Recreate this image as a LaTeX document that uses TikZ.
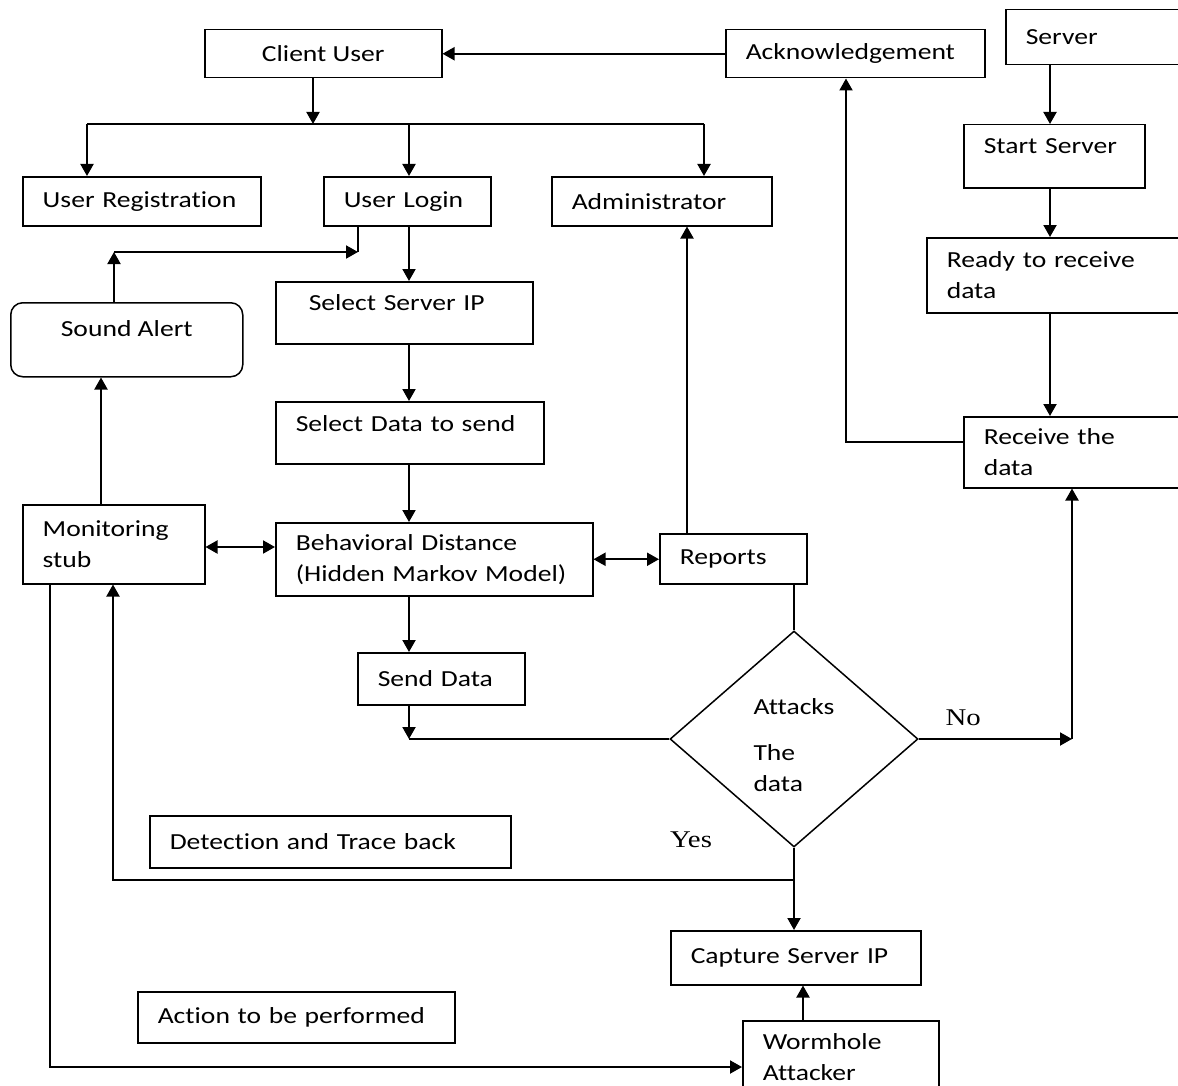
\documentclass[tikz,border=0pt]{standalone}
\usepackage{fontspec}
\setmainfont{Carlito}[FakeStretch=1.2, Ligatures=CommonOff]
\newfontfamily\yesNoFont{Liberation Serif}[FakeStretch=1.2]
\usepackage{tikz}
\usetikzlibrary{shapes.geometric, arrows.meta, positioning, calc}
\definecolor{lineColor}{RGB}{0, 0, 0}
\tikzset{
    font=\fontsize{11.5pt}{15.5pt}\selectfont,
    % --- box styles ---
    baseBlock/.style={
        rectangle, draw=lineColor, line width=0.75pt,
        anchor=north west, inner xsep=10pt, inner ysep=2pt,
        align=left
    },
    textUp/.style={text depth=#1},
    styleDecision/.style={
        diamond, draw=lineColor, line width=0.75pt,
        inner sep=0pt, minimum width=124pt, minimum height=108pt,
        align=left, text height=53pt
    },
    yesNo/.style={font=\yesNoFont\fontsize{12pt}{14pt}\selectfont},
    % --- connector styles ---
    connPlain/.style={draw=lineColor, line width=1pt},
    conn/.style={
        connPlain, >={Triangle[length=6pt, width=6.5pt]}, ->
    },
    connBoth/.style={
        conn, <->
    }
}

\begin{document}
\begin{tikzpicture}[x=0.5pt, y=-0.5pt]

    % =========================================================
    % frame
    % =========================================================
    \path[use as bounding box, fill=white] (0,0) rectangle (1178,1086);
    \clip (0,0) rectangle (1178,1086);

    % =========================================================
    % client side
    % =========================================================
    \node [baseBlock, minimum width=118.5pt, minimum height=24pt] (client) at (204,29) {Client User};
    \node [baseBlock, minimum width=129.5pt, minimum height=24pt, text width=109.5pt] (ack) at (725,29) {Acknowledgement};

    \node [baseBlock, minimum width=119pt, minimum height=24.5pt, text width=99pt] (userReg) at (22,176) {User Registration};
    \node [baseBlock, minimum width=83.5pt, minimum height=24.5pt, text width=63.5pt] (login) at (323,176) {User Login};
    \node [baseBlock, minimum width=110pt, minimum height=24.5pt, text width=90pt] (admin) at (551,176) {Administrator};

    \node [baseBlock, minimum width=128.5pt, minimum height=31pt, inner xsep=16.5pt, text width=95.5pt, textUp=10pt] (selIP) at (275,281) {Select Server IP};
    \node [baseBlock, minimum width=134pt, minimum height=31pt, text width=114pt, textUp=9pt] (selData) at (275,401) {Select Data to send};
    \node [baseBlock, rounded corners=6pt, minimum width=116pt, minimum height=37pt, textUp=11pt] (alert) at (10,302) {Sound Alert};

    \node [baseBlock, minimum width=91pt, minimum height=39.5pt, text width=71pt] (monitor) at (22,504) {Monitoring\\stub};
    \node [baseBlock, minimum width=158.5pt, minimum height=36.5pt, text width=138.5pt] (behav) at (275,522) {Behavioral Distance\\(Hidden Markov Model)};
    \node [baseBlock, minimum width=73.5pt, minimum height=25pt, text width=53.5pt] (reports) at (659,533) {Reports};
    \node [baseBlock, minimum width=83.5pt, minimum height=26pt, text width=63.5pt] (send) at (357,652) {Send Data};

    \node [baseBlock, minimum width=180.5pt, minimum height=26pt, text width=160.5pt] (detect) at (149,815) {Detection and Trace back};
    \node [baseBlock, minimum width=158.5pt, minimum height=25.5pt, text width=138.5pt] (action) at (137,991) {Action to be performed};
    \node [baseBlock, minimum width=125pt, minimum height=27pt, text width=105pt] (capture) at (670,930) {Capture Server IP};
    \node [baseBlock, minimum width=98pt, minimum height=36pt, text width=78pt] (worm) at (742,1020) {Wormhole\\Attacker};

    % decision
    \node [styleDecision] (attack) at (794,739) {Attacks\\[7.5pt]The\\data};
    \node [yesNo] (yesLbl) at (691,840) {Yes};

    % =========================================================
    % server side
    % =========================================================
    \node [baseBlock, minimum width=97.5pt, minimum height=27.5pt, text width=77.5pt] (server) at (1005,9) {Server};
    \node [baseBlock, minimum width=90.5pt, minimum height=31.5pt, text width=70.5pt, textUp=10pt] (start) at (963,124) {Start Server};
    \node [baseBlock, minimum width=137pt, minimum height=37.5pt, text width=117pt] (ready) at (926,237) {Ready to receive\\data};
    \node [baseBlock, minimum width=118.5pt, minimum height=35.5pt, text width=98.5pt] (receive) at (963,416) {Receive the\\data};

    % =========================================================
    % bends
    % =========================================================
    \coordinate (cuOut) at (313,124);
    \coordinate (busL) at (87,124);
    \coordinate (busR) at (704,124);
    \coordinate (spine) at (409,0);
    \coordinate (alertUp) at (114,252);
    \coordinate (loginIn) at (358,252);
    \coordinate (monUp) at (101,0);
    \coordinate (sideLink) at (0,547);
    \coordinate (sendOut) at (409,739);
    \coordinate (noTurn) at (1072,739);
    \coordinate (yesJoin) at (794,880);
    \coordinate (backTurn) at (113,880);
    \coordinate (monDown) at (50,1067);
    \coordinate (repUp) at (687,0);
    \coordinate (wormUp) at (803,0);
    \coordinate (ackTurn) at (846,442);
    \coordinate (srvCol) at (1050,0);

    % =========================================================
    % connectors
    % =========================================================

    % client user fan out
    \draw [conn] (ack.west) -- (client.east);
    \draw [conn] (client.south -| cuOut) -- (cuOut);
    \draw [connPlain] (busL) -- (busR);
    \draw [conn] (busL) -- (userReg.north -| busL);
    \draw [conn] (spine |- busL) -- (login.north -| spine);
    \draw [conn] (busR) -- (admin.north -| busR);

    % main chain
    \draw [conn] (login.south -| spine) -- (selIP.north -| spine);
    \draw [conn] (selIP.south -| spine) -- (selData.north -| spine);
    \draw [conn] (selData.south -| spine) -- (behav.north -| spine);
    \draw [conn] (behav.south -| spine) -- (send.north -| spine);
    \draw [conn] (send.south -| spine) -- (sendOut);
    \draw [connPlain] (sendOut) -- (attack.west);

    % monitoring loop
    \draw [conn] (monitor.north -| monUp) -- (alert.south -| monUp);
    \draw [conn] (alert.north -| alertUp) -- (alertUp);
    \draw [conn] (alertUp) -- (loginIn);
    \draw [connPlain] (loginIn) -- (login.south -| loginIn);
    \draw [connBoth] (monitor.east |- sideLink) -- (behav.west |- sideLink);
    \draw [connBoth] (behav.east) -- (reports.west |- behav.east);
    \draw [conn] (reports.north -| repUp) -- (admin.south -| repUp);
    \draw [connPlain] (reports.south -| attack.north) -- (attack.north);

    % decision
    \draw [conn] (attack.east) -- node[yesNo, pos=0.29, above=3pt] (noLbl) {No} (noTurn);
    \draw [conn] (noTurn) -- (receive.south -| noTurn);
    \draw [conn] (attack.south) -- (capture.north -| attack.south);
    \draw [conn] (yesJoin) -- (backTurn) -- (monitor.south -| backTurn);
    \draw [conn] (worm.north -| wormUp) -- (capture.south -| wormUp);
    \draw [conn] (monitor.south -| monDown) -- (monDown) -- (worm.west |- monDown);

    % server chain
    \draw [conn] (server.south -| srvCol) -- (start.north -| srvCol);
    \draw [conn] (start.south -| srvCol) -- (ready.north -| srvCol);
    \draw [conn] (ready.south -| srvCol) -- (receive.north -| srvCol);
    \draw [conn] (receive.west |- ackTurn) -- (ackTurn) -- (ack.south -| ackTurn);

\end{tikzpicture}
\end{document}
